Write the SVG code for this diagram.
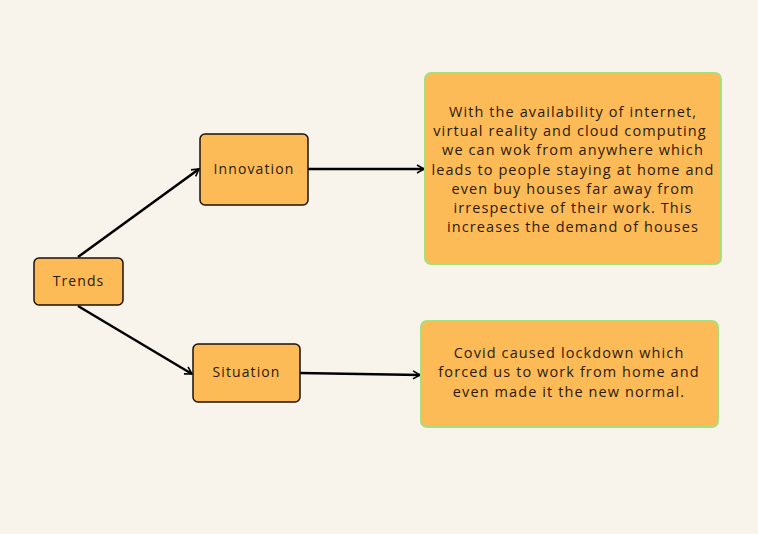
<svg xmlns="http://www.w3.org/2000/svg" width="758" height="534" viewBox="0 0 758 534">
<style>
.n{fill:#fdbb58;stroke:#1a1208;stroke-width:1.5}
.b{fill:#fdbb58;stroke:#a6e07c;stroke-width:2}
text{font-family:"Open Sans",Lato,sans-serif;font-size:14px;fill:#2a1a0a;text-anchor:middle;letter-spacing:1.1px}
.t{font-size:14.5px}
.c{stroke:#000;stroke-width:2.5;fill:none;marker-end:url(#a)}
</style>
<defs>
<marker id="a" viewBox="0 0 10 10" refX="8" refY="5" markerWidth="4" markerHeight="4" orient="auto" markerUnits="strokeWidth">
<path d="M1,1 L8,5 L1,9" fill="none" stroke="#000" stroke-width="1.6"/>
</marker>
</defs>
<rect width="758" height="534" fill="#f8f4ec"/>
<g id="connectors">
<line class="c" x1="78" y1="257" x2="199" y2="169"/>
<line class="c" x1="78" y1="306" x2="192" y2="374"/>
<line class="c" x1="308" y1="169" x2="424" y2="169"/>
<line class="c" x1="300" y1="373" x2="420" y2="375"/>
</g>
<g id="trends"><rect class="n" x="34" y="258" width="89" height="47" rx="5"/><text x="78.5" y="286">Trends</text></g>
<g id="innovation"><rect class="n" x="200" y="134" width="108" height="71" rx="5"/><text x="254" y="174">Innovation</text></g>
<g id="situation"><rect class="n" x="193" y="344" width="107" height="58" rx="5"/><text x="246.5" y="377">Situation</text></g>
<g id="innovation-detail" class="t"><rect class="b" x="425" y="73" width="296" height="191" rx="6"/>
<text class="t" x="573" y="117">With the availability of internet,</text>
<text class="t" x="570" y="136">virtual reality and cloud computing</text>
<text class="t" x="573" y="155">we can wok from anywhere which</text>
<text class="t" x="573" y="175">leads to people staying at home and</text>
<text class="t" x="573" y="194">even buy houses far away from</text>
<text class="t" x="573" y="213">irrespective of their work. This</text>
<text class="t" x="573" y="232">increases the demand of houses</text>
</g>
<g id="situation-detail"><rect class="b" x="421" y="321" width="297" height="106" rx="6"/>
<text class="t" x="569" y="358">Covid caused lockdown which</text>
<text class="t" x="569" y="377">forced us to work from home and</text>
<text class="t" x="569" y="397">even made it the new normal.</text>
</g>
</svg>
